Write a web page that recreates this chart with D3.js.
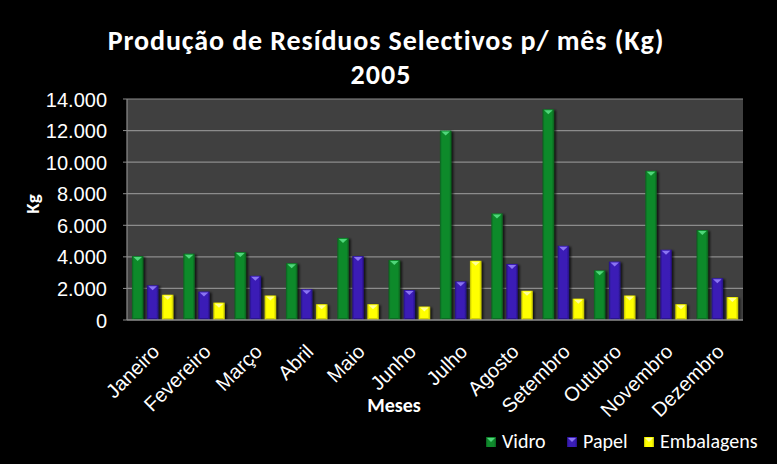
<!DOCTYPE html>
<html><head><meta charset="utf-8">
<script src="https://cdn.jsdelivr.net/npm/d3@7"></script>
<style>
html,body{margin:0;padding:0;background:#000;}
svg{display:block;font-family:Carlito,Lato,"Open Sans",sans-serif;}
</style></head>
<body>
<svg id="chart" width="777" height="464"></svg>
<script>
const months = ["Janeiro","Fevereiro","Março","Abril","Maio","Junho","Julho","Agosto","Setembro","Outubro","Novembro","Dezembro"];
const seriesNames = ["Vidro","Papel","Embalagens"];
const vidro = [4050,4200,4300,3600,5200,3800,12000,6750,13350,3150,9450,5700];
const papel = [2200,1800,2800,1950,4050,1900,2450,3550,4700,3700,4450,2650];
const embalagens = [1600,1100,1550,1000,1000,850,3750,1850,1350,1550,1000,1450];
const yTicks = [0,2000,4000,6000,8000,10000,12000,14000];
const titleLines = ["Produção de Resíduos Selectivos p/ mês (Kg)","2005"];

const seriesData = [vidro, papel, embalagens];
const colors = [
  {main:"#0f8a2c", dark:"#0a5f1e", light:"#4fd67a"},
  {main:"#3a1db6", dark:"#24107e", light:"#8a74f2"},
  {main:"#ffff00", dark:"#bdbd00", light:"#ffff9a"}
];

const svg = d3.select("#chart");
const x0 = 127, x1r = 743, yTop = 99, yBot = 320;

const defs = svg.append("defs");
const f = defs.append("filter").attr("id","sh").attr("x","-30%").attr("y","-10%").attr("width","170%").attr("height","130%");
f.append("feDropShadow").attr("dx",2).attr("dy",1).attr("stdDeviation",1.3).attr("flood-color","#000").attr("flood-opacity",0.7);
colors.forEach((c,i)=>{
  const g = defs.append("linearGradient").attr("id","g"+i).attr("x1","0").attr("x2","1").attr("y1","0").attr("y2","0");
  g.append("stop").attr("offset","0").attr("stop-color",c.dark);
  g.append("stop").attr("offset","0.18").attr("stop-color",c.main);
  g.append("stop").attr("offset","0.8").attr("stop-color",c.main);
  g.append("stop").attr("offset","1").attr("stop-color",c.dark);
});

const x = d3.scaleBand().domain(months).range([x0, x1r]).paddingInner(0).paddingOuter(0);
const xs = d3.scaleBand().domain(seriesNames).range([0, x.bandwidth()]).paddingInner(0.233).paddingOuter(0.327);
const y = d3.scaleLinear().domain([0,14000]).range([yBot, yTop]);

const loc = d3.formatLocale({decimal:",", thousands:".", grouping:[3], currency:["",""]});
const fmt = loc.format(",.0f");

// plot background
svg.append("rect").attr("x",x0).attr("y",yTop).attr("width",x1r-x0).attr("height",yBot-yTop).attr("fill","#404040");

// y axis labels
const yAxis = d3.axisLeft(y).tickValues(yTicks).tickFormat(fmt).tickSize(0).tickPadding(20);
const gy = svg.append("g").attr("transform",`translate(${x0},0)`).call(yAxis);
gy.select(".domain").remove();
gy.selectAll("text").attr("fill","#fff").style("font-size","20px").attr("dy","0.35em");
// gridlines
svg.append("g").selectAll("line").data(yTicks.filter(d=>d>0)).join("line")
  .attr("x1",x0).attr("x2",x1r).attr("y1",d=>y(d)).attr("y2",d=>y(d))
  .attr("stroke","#8c8c8c").attr("stroke-width",1.2);
// tick marks
svg.append("g").selectAll("line").data(yTicks).join("line")
  .attr("x1",x0-4).attr("x2",x0).attr("y1",d=>y(d)).attr("y2",d=>y(d))
  .attr("stroke","#8c8c8c").attr("stroke-width",1);

// bars
function bar(g, bx, by, bw, bh, i){
  const c = colors[i];
  g.append("rect").attr("x",bx).attr("y",by).attr("width",bw).attr("height",bh)
    .attr("fill",`url(#g${i})`).attr("filter","url(#sh)");
  const t = Math.min(4, bh/2);
  g.append("polygon").attr("points",`${bx+1.5},${by+1} ${bx+bw-1.5},${by+1} ${bx+bw/2},${by+1+t}`)
    .attr("fill",c.light);
  g.append("rect").attr("x",bx+1.5).attr("y",by+bh-2).attr("width",Math.max(0,bw-3)).attr("height",2)
    .attr("fill",c.dark).attr("opacity",0.7);
}
const gb = svg.append("g");
months.forEach((mo,mi)=>{
  seriesNames.forEach((s,si)=>{
    const v = seriesData[si][mi];
    bar(gb, x(mo)+xs(s), y(v), xs.bandwidth(), y(0)-y(v), si);
  });
});

// axes lines
svg.append("line").attr("x1",x0).attr("x2",x0).attr("y1",yTop).attr("y2",yBot).attr("stroke","#8c8c8c").attr("stroke-width",1.2);
svg.append("line").attr("x1",x0).attr("x2",x1r).attr("y1",yBot).attr("y2",yBot).attr("stroke","#8c8c8c").attr("stroke-width",1.5);

// x labels
const xAxis = d3.axisBottom(x).tickSize(0).tickPadding(0);
const gx = svg.append("g").attr("transform",`translate(0,${yBot})`).call(xAxis);
gx.select(".domain").remove();
gx.selectAll("text").attr("fill","#fff").style("font-size","20px")
  .attr("text-anchor","end").attr("dy",null).attr("y",0)
  .attr("transform","translate(8,33) rotate(-45)");

// titles
svg.append("text").attr("x",386).attr("y",50).attr("text-anchor","middle").attr("fill","#fff")
  .style("font-size","28px").style("font-weight","bold").style("letter-spacing","0.9px").text(titleLines[0]);
svg.append("text").attr("x",381).attr("y",84).attr("text-anchor","middle").attr("fill","#fff")
  .style("font-size","28px").style("font-weight","bold").style("letter-spacing","1px").text(titleLines[1]);
svg.append("text").attr("x",394).attr("y",412).attr("text-anchor","middle").attr("fill","#fff")
  .style("font-size","20px").style("font-weight","bold").text("Meses");
svg.append("text").attr("transform","translate(39,204) rotate(-90)").attr("text-anchor","middle").attr("fill","#fff")
  .style("font-size","19px").style("font-weight","bold").text("Kg");

// legend
const legX = [486, 567, 644];
const lg = svg.append("g");
seriesNames.forEach((s,i)=>{
  const c = colors[i];
  lg.append("rect").attr("x",legX[i]).attr("y",437).attr("width",10).attr("height",10).attr("fill",`url(#g${i})`);
  lg.append("polygon").attr("points",`${legX[i]+1},438 ${legX[i]+9},438 ${legX[i]+5},442`).attr("fill",c.light);
  lg.append("text").attr("x",legX[i]+16).attr("y",448).attr("fill","#fff").style("font-size","20px").text(s);
});
</script>
</body></html>
